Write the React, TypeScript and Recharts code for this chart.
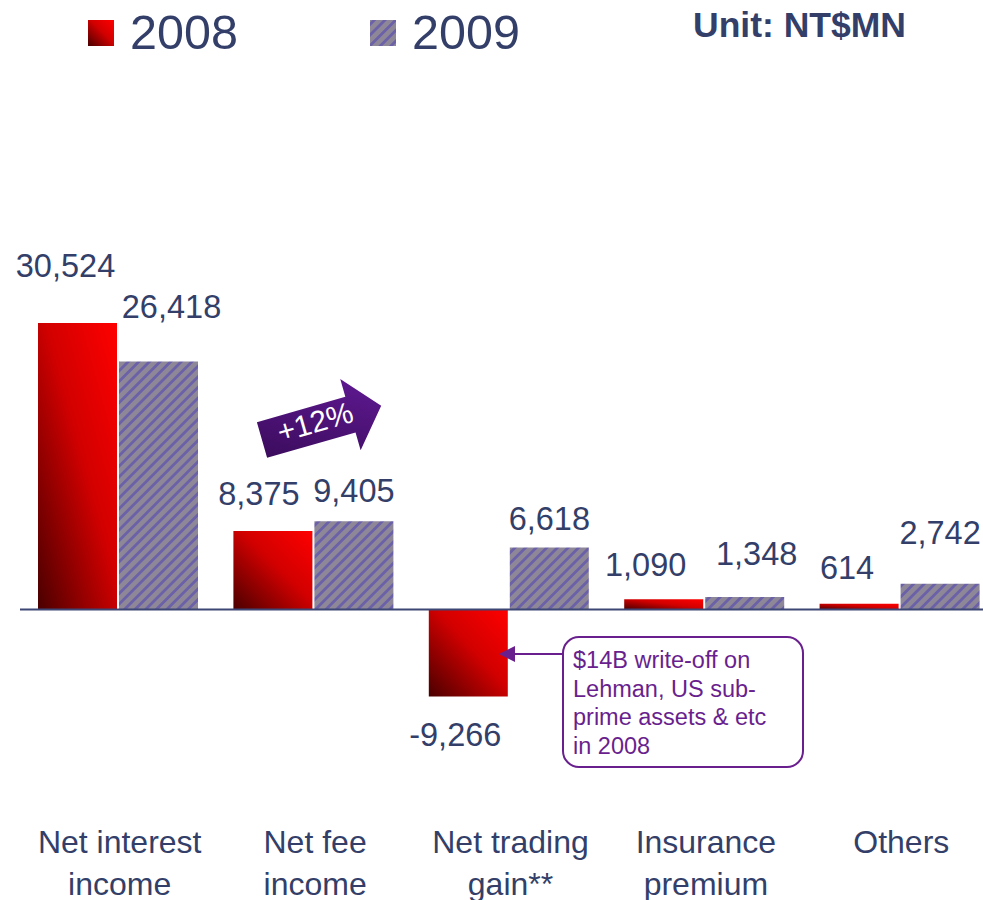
import React from 'react';
import { BarChart, Bar, XAxis, YAxis, ReferenceLine, LabelList } from 'recharts';

// ---- data ----
const categories = ['Net interest income', 'Net fee income', 'Net trading gain**', 'Insurance premium', 'Others'];
const categoryLines = [['Net interest', 'income'], ['Net fee', 'income'], ['Net trading', 'gain**'], ['Insurance', 'premium'], ['Others']];
const values2008 = [30524, 8375, -9266, 1090, 614];
const values2009 = [26418, 9405, 6618, 1348, 2742];
const seriesNames = ['2008', '2009'];
const unitLabel = 'Unit: NT$MN';
const growthLabel = '+12%';
const noteLines = ['$14B write-off on', 'Lehman, US sub-', 'prime assets & etc', 'in 2008'];

// ---- layout tweaks for value labels (dx, dy from bar end) ----
const nudge2008 = [[-12, -57], [-14, -37], [-13, 38], [-18, -35], [-12, -36]];
const nudge2009 = [[13, -55], [0, -31], [0, -29], [12, -43], [0, -51]];

const data = categories.map((c, i) => ({ name: c, y2008: values2008[i], y2009: values2009[i] }));

const NAVY = '#333f69';
const PURPLE = '#6a1f8e';
const FONT = '"Liberation Sans", Arial, sans-serif';

const makeLabel = (nudges: number[][]) => (props: any) => {
  const { x, y, width, height, value, index } = props;
  const top = Math.min(y, y + height);
  const bottom = Math.max(y, y + height);
  const [dx, dy] = nudges[index] || [0, -35];
  const cx = x + width / 2 + dx;
  const cy = (value < 0 ? bottom : top) + dy;
  return (
    <text x={cx} y={cy + 11.5} textAnchor="middle" fill={NAVY} fontSize={32.5} fontFamily={FONT}>
      {Number(value).toLocaleString('en-US')}
    </text>
  );
};

const CategoryTick = (props: any) => {
  const { x, y, payload } = props;
  const idx = categories.indexOf(payload.value);
  const lines = categoryLines[idx] || [payload.value];
  return (
    <text x={x + 2} y={y + 141.5} textAnchor="middle" fill={NAVY} fontSize={32} fontFamily={FONT}>
      {lines.map((l, i) => (
        <tspan key={i} x={x + 2} dy={i === 0 ? 0 : 42}>{l}</tspan>
      ))}
    </text>
  );
};

// arrow geometry in local coords
const arrowPts = '0,-18.5 92,-18.5 92,-37 124,0 92,37 92,18.5 0,18.5';

export default function App() {
  return (
    <div style={{ position: 'absolute', left: 0, top: 0, width: 983, height: 900, overflow: 'hidden', background: '#fff' }}>
      <BarChart
        width={1000}
        height={900}
        data={data}
        margin={{ top: 234, right: 3, left: 20, bottom: 136.5 }}
        barGap={2}
        barSize={79}
      >
        <defs>
          <linearGradient id="redGrad" x1="0" y1="1" x2="1" y2="0">
            <stop offset="0" stopColor="#4a0000" />
            <stop offset="0.55" stopColor="#d20000" />
            <stop offset="1" stopColor="#ff0000" />
          </linearGradient>
          <pattern id="hatch" patternUnits="userSpaceOnUse" width="7.5" height="7.5" patternTransform="rotate(45)">
            <rect width="7.5" height="7.5" fill="#8e8797" />
            <rect x="0" width="2.8" height="7.5" fill="#6b61a8" />
          </pattern>
        </defs>
        <XAxis dataKey="name" axisLine={false} tickLine={false} height={60} tick={<CategoryTick />} interval={0} />
        <YAxis hide domain={[-10000, 40000]} allowDataOverflow />
        <Bar dataKey="y2008" name={seriesNames[0]} fill="url(#redGrad)" isAnimationActive={false}>
          <LabelList dataKey="y2008" content={makeLabel(nudge2008)} />
        </Bar>
        <Bar dataKey="y2009" name={seriesNames[1]} fill="url(#hatch)" isAnimationActive={false}>
          <LabelList dataKey="y2009" content={makeLabel(nudge2009)} />
        </Bar>
        <ReferenceLine y={0} stroke="#3d4775" strokeWidth={2} />
      </BarChart>

      <svg width={983} height={900} style={{ position: 'absolute', left: 0, top: 0, pointerEvents: 'none' }}>
        <defs>
          <linearGradient id="redGradL" x1="0" y1="1" x2="1" y2="0">
            <stop offset="0" stopColor="#4a0000" />
            <stop offset="0.55" stopColor="#d20000" />
            <stop offset="1" stopColor="#ff0000" />
          </linearGradient>
          <pattern id="hatchL" patternUnits="userSpaceOnUse" width="7.5" height="7.5" patternTransform="rotate(45)">
            <rect width="7.5" height="7.5" fill="#8e8797" />
            <rect x="0" width="2.8" height="7.5" fill="#6b61a8" />
          </pattern>
          <linearGradient id="purpleGrad" x1="0" y1="1" x2="1" y2="0">
            <stop offset="0" stopColor="#360a55" />
            <stop offset="1" stopColor="#621a96" />
          </linearGradient>
        </defs>
        {/* legend */}
        <rect x={88} y={20} width={26} height={26} fill="url(#redGradL)" />
        <text x={130} y={49} fontSize={48.5} fill={NAVY} fontFamily={FONT}>{seriesNames[0]}</text>
        <rect x={370} y={20} width={26} height={26} fill="url(#hatchL)" />
        <text x={412} y={49} fontSize={48.5} fill={NAVY} fontFamily={FONT}>{seriesNames[1]}</text>
        <text x={693} y={37} fontSize={35.5} fontWeight="bold" fill={NAVY} fontFamily={FONT}>{unitLabel}</text>

        {/* growth arrow */}
        <g transform="translate(262,440) rotate(-16)">
          <polygon points={arrowPts} fill="url(#purpleGrad)" />
          <text x={56} y={-2.7 + 10.5} textAnchor="middle" fontSize={30} fill="#fff" fontFamily={FONT}>{growthLabel}</text>
        </g>

        {/* note */}
        <line x1={563} y1={654} x2={512} y2={654} stroke={PURPLE} strokeWidth={2} />
        <polygon points="499,654 515,646 515,662" fill={PURPLE} />
        <rect x={563} y={637} width={240} height={130} rx={16} ry={16} fill="#fff" stroke={PURPLE} strokeWidth={2} />
        <text fontSize={23.5} fill={PURPLE} fontFamily={FONT}>
          {noteLines.map((l, i) => (
            <tspan key={i} x={573} y={668 + i * 28.5}>{l}</tspan>
          ))}
        </text>
      </svg>
    </div>
  );
}
